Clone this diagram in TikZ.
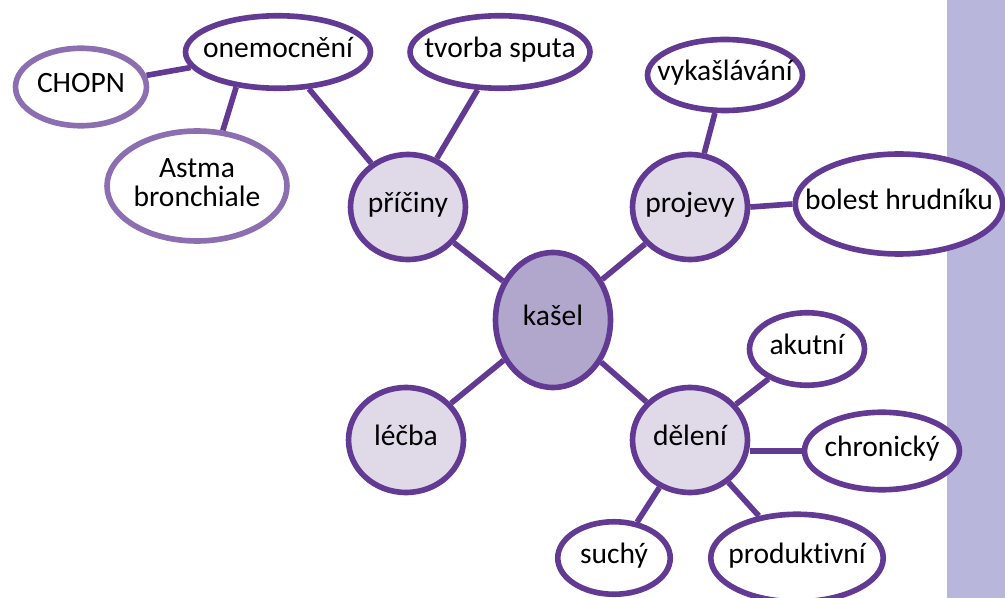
\documentclass[tikz,border=0pt]{standalone}
\usepackage{fontspec}
\setmainfont{Carlito}[Ligatures=NoCommon]
\usepackage{tikz}
\usetikzlibrary{
  shapes.geometric,
  backgrounds
}
\usepackage{xcolor}
\definecolor{purplex}{HTML}{623A94}
\definecolor{lilac}{HTML}{8C6FB0}
\definecolor{corefill}{HTML}{B1A7CC}
\definecolor{midfill}{HTML}{DFD9E8}
\definecolor{bandfill}{HTML}{B9B6DB}
\newcommand{\lbl}[1]{\makebox[0pt]{\def\arraystretch{0.85}\begin{tabular}{@{}c@{}}#1\end{tabular}}}
\tikzset{
  bubble/.style={
    ellipse,
    draw=purplex,
    line width=3.2pt,
    fill=white,
    inner sep=0pt,
    font=\fontsize{16.8}{20}\selectfont
  },
  core/.style={
    bubble,
    fill=corefill,
    minimum width=2.3cm,
    minimum height=2.7cm
  },
  branch/.style={
    bubble,
    fill=midfill,
    minimum width=2.3cm,
    minimum height=2.1cm
  },
  paleleaf/.style={
    bubble,
    draw=lilac
  },
  link/.style={
    line width=3.2pt,
    draw=purplex
  }
}

\begin{document}
\begin{tikzpicture}[x=0.02cm,y=-0.02cm]
\useasboundingbox (0,0) rectangle (1005,598);
% center and branches
\node[core] (kasel) at (553,320) {\lbl{kašel}};
\node[branch] (priciny) at (408,207) {\lbl{příčiny}};
\node[branch] (projevy) at (690,207) {\lbl{projevy}};
\node[branch] (lecba) at (406,440) {\lbl{léčba}};
\node[branch] (deleni) at (690,440) {\lbl{dělení}};

% causes
\node[bubble,minimum width=3.7cm,minimum height=1.45cm] (onemoc) at (278,52) {\lbl{onemocnění}};
\node[bubble,minimum width=3.6cm,minimum height=1.45cm] (sputum) at (500,52) {\lbl{tvorba sputa}};
\node[paleleaf,minimum width=2.62cm,minimum height=1.55cm] (chopn) at (81,87) {\lbl{CHOPN}};
\node[paleleaf,minimum width=3.6cm,minimum height=2.2cm] (astma) at (197,186) {\lbl{Astma\\bronchiale}};

% symptoms
\node[bubble,minimum width=3.1cm,minimum height=1.42cm] (vykasl) at (725,75) {\lbl{vykašlávání}};
\node[bubble,minimum width=4.15cm,minimum height=2.0cm] (bolest) at (899,204) {\lbl{bolest hrudníku}};

% kinds
\node[bubble,minimum width=2.3cm,minimum height=1.45cm] (akutni) at (807,349) {\lbl{akutní}};
\node[bubble,minimum width=3.1cm,minimum height=1.55cm] (chronic) at (882,451) {\lbl{chronický}};
\node[bubble,minimum width=2.25cm,minimum height=1.45cm] (suchy) at (614,558) {\lbl{suchý}};
\node[bubble,minimum width=3.45cm,minimum height=1.75cm] (produkt) at (797,558) {\lbl{produktivní}};

\begin{scope}[on background layer]
\fill[bandfill] (947,0) rectangle (1005,598);
\draw[link] (kasel) -- (priciny);
\draw[link] (kasel) -- (projevy);
\draw[link] (kasel) -- (lecba);
\draw[link] (kasel) -- (deleni);
\draw[link] (priciny) -- (onemoc);
\draw[link] (priciny) -- (sputum);
\draw[link] (onemoc) -- (chopn);
\draw[link] (onemoc.220) -- (astma.65);
\draw[link] (projevy) -- (vykasl);
\draw[link] (projevy.east) -- (bolest.west);
\draw[link] (deleni) -- (akutni);
\draw[link] (deleni.east |- chronic) -- (chronic.west);
\draw[link] (deleni) -- (suchy);
\draw[link] (deleni) -- (produkt);
\end{scope}
\end{tikzpicture}
\end{document}
